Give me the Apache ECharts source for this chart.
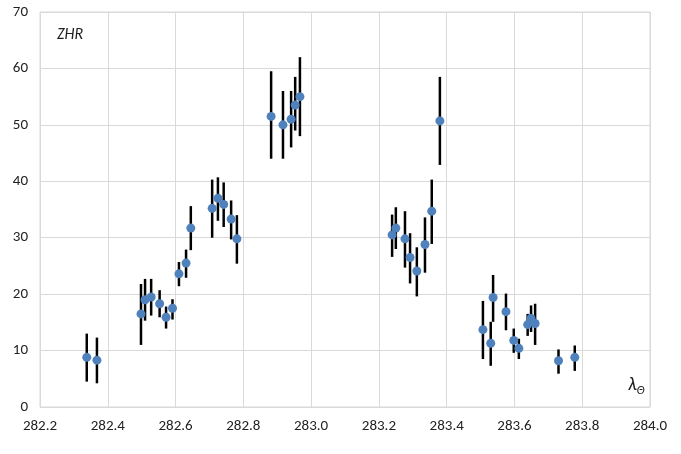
<!DOCTYPE html><html><head><meta charset="utf-8">
<script src="https://cdn.jsdelivr.net/npm/echarts@6/dist/echarts.min.js"></script>
<style>body{margin:0}#c{width:681px;height:454px}</style></head><body><div id="c"></div>
<script>
const lambda=[282.338,282.368,282.498,282.510,282.528,282.553,282.572,282.591,282.610,282.631,282.645,282.708,282.725,282.742,282.764,282.781,282.882,282.917,282.941,282.953,282.967,283.239,283.250,283.277,283.292,283.312,283.336,283.356,283.380,283.507,283.530,283.537,283.575,283.598,283.613,283.639,283.649,283.661,283.730,283.778];
const zhr=[8.8,8.3,16.5,19.0,19.5,18.3,15.9,17.5,23.6,25.5,31.7,35.2,37.0,35.9,33.3,29.8,51.5,50.0,51.0,53.5,55.0,30.5,31.7,29.8,26.5,24.1,28.8,34.7,50.7,13.7,11.3,19.4,16.9,11.8,10.4,14.6,15.7,14.8,8.2,8.8];
const errHigh=[13.0,12.3,21.8,22.7,22.7,20.7,17.8,19.1,25.7,27.9,35.6,40.3,40.7,39.8,36.6,34.0,59.5,56.0,56.0,58.5,62.0,34.1,35.4,34.7,30.8,28.3,33.6,40.3,58.5,18.8,15.1,23.4,20.1,13.9,12.1,16.5,18.0,18.3,10.2,10.9];
const errLow=[4.5,4.2,11.0,15.3,16.2,15.9,13.9,15.5,21.4,22.9,27.8,30.0,33.0,31.9,29.7,25.4,44.0,44.0,46.0,49.0,48.0,26.6,28.0,24.7,21.9,19.6,23.8,28.9,42.9,8.5,7.3,15.1,13.6,9.6,8.5,12.6,13.3,11.0,5.9,6.4];
const ch=echarts.init(document.getElementById('c'));
const font='Calibri, Carlito, "Open Sans", sans-serif';
ch.setOption({animation:false,
grid:{left:40,right:31,top:12,bottom:47,show:true,borderColor:'#d9d9d9',borderWidth:1},
xAxis:{type:'value',min:282.2,max:284.0,interval:0.2,axisLine:{show:false},axisTick:{show:false},
 splitLine:{lineStyle:{color:'#d9d9d9'}},axisLabel:{color:'#222',fontSize:15,fontFamily:font,formatter:v=>v.toFixed(1),margin:12}},
yAxis:{type:'value',min:0,max:70,interval:10,axisLine:{show:false},axisTick:{show:false},
 splitLine:{lineStyle:{color:'#d9d9d9'}},axisLabel:{color:'#222',fontSize:15,fontFamily:font,margin:12}},
graphic:[{type:'text',left:57,top:27,style:{text:'ZHR',font:'italic 16px '+font,fill:'#222'}},
 {type:'text',left:628,top:376,style:{rich:{a:{font:'italic 19px '+font,fill:'#222'},b:{font:'italic 12px '+font,fill:'#222',padding:[10,0,0,0]}},text:'{a|λ}{b|Θ}'}}],
series:[{type:'custom',data:lambda.map((x,i)=>[x,errLow[i],errHigh[i]]),
 renderItem:(p,api)=>{const a=api.coord([api.value(0),api.value(1)]),b=api.coord([api.value(0),api.value(2)]);
  return {type:'line',shape:{x1:a[0],y1:a[1],x2:b[0],y2:b[1]},style:{stroke:'#000',lineWidth:2.5}};}},
 {type:'scatter',data:lambda.map((x,i)=>[x,zhr[i]]),symbolSize:9,itemStyle:{color:'#4f81bd',opacity:1}}]
});
</script></body></html>
